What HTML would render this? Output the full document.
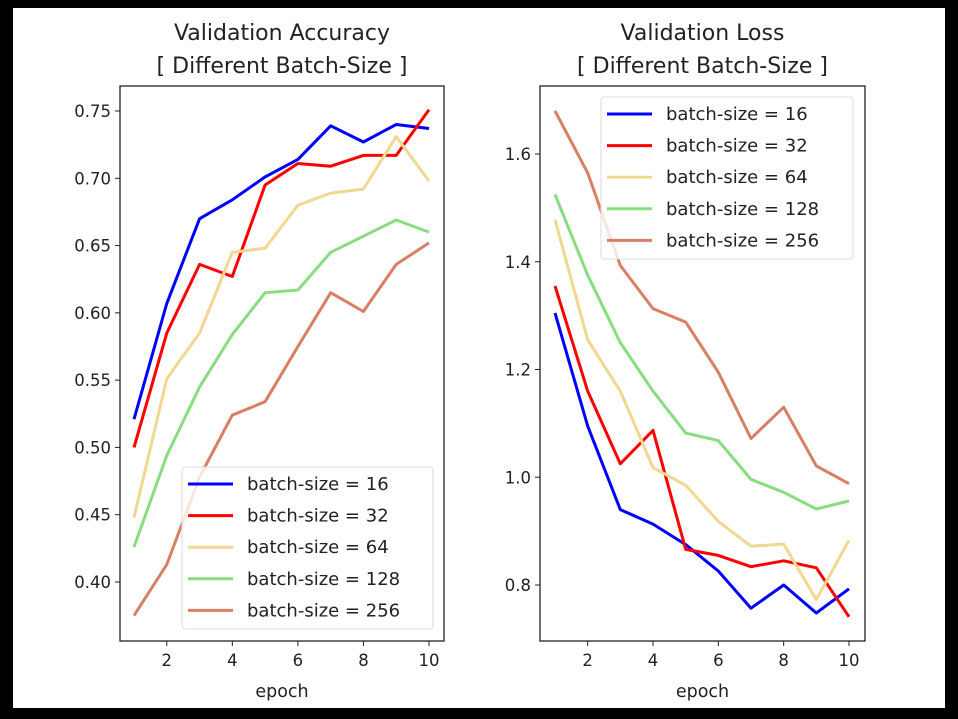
<!DOCTYPE html>
<html><head><meta charset="utf-8"><style>
html,body{margin:0;padding:0;background:#000;}
svg{display:block;font-family:"DejaVu Sans","Liberation Sans",sans-serif;}
</style></head><body>
<svg id="chart" width="958" height="719" viewBox="0 0 958 719">
<rect x="0" y="0" width="958" height="719" fill="#000"/>
<rect x="13" y="8" width="932" height="700" fill="#fff"/>
<g id="left"></g>
<g id="right"></g>
</svg>
<script>
const epochs = [1,2,3,4,5,6,7,8,9,10];
const seriesNames = ["batch-size = 16","batch-size = 32","batch-size = 64","batch-size = 128","batch-size = 256"];
const seriesColors = ["#0000ff","#ff0000","#f0d890","#88dd7f","#d97f63"];
const accTicks = [0.40,0.45,0.50,0.55,0.60,0.65,0.70,0.75];
const lossTicks = [0.8,1.0,1.2,1.4,1.6];
const xTicks = [2,4,6,8,10];
const acc16 = [0.521,0.607,0.670,0.684,0.701,0.714,0.739,0.727,0.740,0.737];
const acc32 = [0.500,0.585,0.636,0.627,0.695,0.711,0.709,0.717,0.717,0.751];
const acc64 = [0.448,0.551,0.585,0.645,0.648,0.680,0.689,0.692,0.731,0.698];
const acc128 = [0.426,0.494,0.545,0.584,0.615,0.617,0.645,0.657,0.669,0.660];
const acc256 = [0.375,0.413,0.478,0.524,0.534,0.575,0.615,0.601,0.636,0.652];
const loss16 = [1.305,1.095,0.940,0.913,0.875,0.826,0.757,0.800,0.748,0.793];
const loss32 = [1.355,1.160,1.025,1.087,0.866,0.855,0.834,0.845,0.832,0.741];
const loss64 = [1.478,1.255,1.160,1.018,0.985,0.918,0.872,0.876,0.773,0.883];
const loss128 = [1.525,1.375,1.250,1.160,1.082,1.068,0.996,0.972,0.941,0.956];
const loss256 = [1.680,1.565,1.393,1.313,1.288,1.195,1.072,1.130,1.021,0.988];

const NS="http://www.w3.org/2000/svg";
function mk(tag, attrs, parent){const e=document.createElementNS(NS,tag);for(const k in attrs)e.setAttribute(k,attrs[k]);parent.appendChild(e);return e;}

function panel(g, cfg){
  const {x0,x1,y0,y1,ex1,ex10,vy,py,vy2,py2,ticks,fmt,series,title,leg} = cfg;
  const sx = e => ex1 + (e-1)*(ex10-ex1)/9;
  const sy = v => py + (v-vy)*(py2-py)/(vy2-vy);
  const t1 = mk('text',{x:(x0+x1)/2,y:40,'text-anchor':'middle','font-size':22,fill:'#222'},g);
  t1.textContent = title;
  
  
  const t2 = mk('text',{x:(x0+x1)/2,y:73,'text-anchor':'middle','font-size':22,fill:'#222'},g);
  t2.textContent = '[ Different Batch-Size ]';
  
  
  ticks.forEach(v=>{
    const y=sy(v);
    const l=mk('line',{x1:x0-5,x2:x0,y1:y,y2:y,stroke:'#222','stroke-width':1},g);
    
    
    const t=mk('text',{x:x0-9,y:y+6,'text-anchor':'end','font-size':16.5,fill:'#222'},g);
    t.textContent=fmt(v);
    
    
  });
  xTicks.forEach(v=>{
    const x=sx(v);
    const l=mk('line',{x1:x,x2:x,y1:y1,y2:y1+5,stroke:'#222','stroke-width':1},g);
    
    
    const t=mk('text',{x:x,y:y1+25,'text-anchor':'middle','font-size':16.5,fill:'#222'},g);
    t.textContent=v;
    
    
  });
  const xl=mk('text',{x:(x0+x1)/2,y:697,'text-anchor':'middle','font-size':17.5,fill:'#222'},g);
  xl.textContent='epoch';
  
  
  series.forEach((s,i)=>{
    const p=mk('polyline',{points:s.map((v,j)=>sx(epochs[j]).toFixed(1)+','+sy(v).toFixed(1)).join(' '),fill:'none',stroke:seriesColors[i],'stroke-width':3,'stroke-linejoin':'round'},g);
    
    
  });
  const f=mk('rect',{x:x0,y:y0,width:x1-x0,height:y1-y0,fill:'none',stroke:'#222','stroke-width':1.3},g);
  
  
  const lg=mk('g',{},g);
  
  
  const bx=mk('rect',{x:leg.x,y:leg.y,width:leg.w,height:leg.h,rx:3,fill:'rgba(255,255,255,0.8)',stroke:'#ddd','stroke-width':1},lg);
  
  
  seriesNames.forEach((n,i)=>{
    const y=leg.y+17+i*31.6;
    const l=mk('line',{x1:leg.x+6,x2:leg.x+51,y1:y,y2:y,stroke:seriesColors[i],'stroke-width':3},lg);
    
    
    const t=mk('text',{x:leg.x+65,y:y+6,'font-size':18,fill:'#222'},lg);
    t.textContent=n;
    
    
  });
}
panel(document.getElementById('left'),{x0:120,x1:444,y0:86,y1:641,ex1:134,ex10:429,vy:0.75,py:111,vy2:0.40,py2:582,
  ticks:accTicks,fmt:v=>v.toFixed(2),series:[acc16,acc32,acc64,acc128,acc256],title:'Validation Accuracy',
  leg:{x:182,y:467,w:251,h:162}});
panel(document.getElementById('right'),{x0:540,x1:865,y0:86,y1:641,ex1:555,ex10:849,vy:1.6,py:154,vy2:0.8,py2:585,
  ticks:lossTicks,fmt:v=>v.toFixed(1),series:[loss16,loss32,loss64,loss128,loss256],title:'Validation Loss',
  leg:{x:601,y:97,w:252,h:162}});
</script>
</body></html>
